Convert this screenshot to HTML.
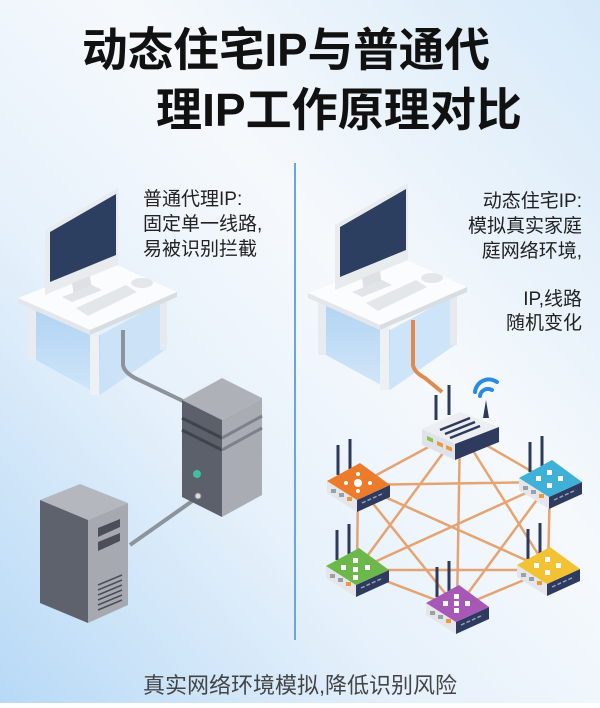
<!DOCTYPE html>
<html><head><meta charset="utf-8"><style>
html,body{margin:0;padding:0}
body{width:600px;height:703px;overflow:hidden;font-family:"Liberation Sans","Noto Sans CJK SC",sans-serif}
</style></head><body>
<svg width="600" height="703" viewBox="0 0 600 703" xmlns="http://www.w3.org/2000/svg" font-family="Liberation Sans, Noto Sans CJK SC, sans-serif">
<defs>
<linearGradient id="bg" x1="0" y1="1" x2="1" y2="0">
<stop offset="0" stop-color="#b7d9f6"/><stop offset="0.35" stop-color="#e6f1fb"/><stop offset="0.6" stop-color="#f6f9fc"/><stop offset="1" stop-color="#d6e9f9"/>
</linearGradient>
<linearGradient id="sh" x1="0" y1="0" x2="0" y2="1"><stop offset="0" stop-color="#a9cff2"/><stop offset="1" stop-color="#cfe5f8"/></linearGradient>
</defs>
<rect width="600" height="703" fill="url(#bg)"/>
<text x="82" y="66" font-size="46" font-weight="bold" fill="#111" textLength="408" lengthAdjust="spacingAndGlyphs">动态住宅IP与普通代</text>
<text x="156" y="126" font-size="46" font-weight="bold" fill="#111" textLength="366" lengthAdjust="spacingAndGlyphs">理IP工作原理对比</text>
<line x1="295" y1="163" x2="295" y2="640" stroke="#6aa4e3" stroke-width="2"/>
<g font-size="19" fill="#222">
<text x="143" y="205">普通代理IP:</text><text x="143" y="230">固定单一线路,</text><text x="143" y="255">易被识别拦截</text>
</g>
<g font-size="19" fill="#222" text-anchor="end">
<text x="582" y="207">动态住宅IP:</text><text x="582" y="232">模拟真实家庭</text><text x="582" y="257">庭网络环境,</text>
<text x="582" y="305">IP,线路</text><text x="582" y="329">随机变化</text>
</g>
<text x="300" y="693" font-size="22" fill="#444" text-anchor="middle">真实网络环境模拟,降低识别风险</text>

<!-- desks -->
<g id="desk">
<polygon points="36,305 100,335 100,395 36,360" fill="url(#sh)" opacity="0.9"/>
<polygon points="100,335 165,300 165,350 100,395" fill="#c4def6" opacity="0.8"/>
<rect x="28" y="305" width="8" height="55" fill="#e8ecf0"/>
<rect x="90" y="330" width="9" height="65" fill="#eef1f4"/>
<rect x="160" y="298" width="7" height="52" fill="#e6eaee"/>
<polygon points="18,298 110,262 177,292 90,330" fill="#fbfcfd"/>
<polygon points="18,298 90,330 90,335 18,303" fill="#e3e7eb"/>
<polygon points="90,330 177,292 177,297 90,335" fill="#d8dde2"/>
<polygon points="45,230 118,188 118,265 45,295" fill="#e9ecef"/>
<polygon points="50,232 116,194 116,255 50,282" fill="#2d3f60"/>
<polygon points="72,283 90,276 92,290 74,296" fill="#dde1e5"/>
<polygon points="62,297 92,285 102,290 72,302" fill="#e1e5e9"/>
<polygon points="76,308 126,285 137,292 88,316" fill="#e4e7ea"/>
<ellipse cx="142" cy="283" rx="11" ry="5" fill="#e4e7ea"/>
</g>
<use href="#desk" transform="translate(290,-5)"/>

<!-- left cables -->
<path d="M123 330 L123 365 Q124 372 135 378 L185 402" fill="none" stroke="#8c939b" stroke-width="4"/>
<path d="M130 545 L198 497" stroke="#8c939b" stroke-width="4"/>
<!-- server 1 -->
<polygon points="182,400 222,378 262,398 222,420" fill="#aeb2b8"/>
<polygon points="182,400 222,420 222,517 182,497" fill="#5b606b"/>
<polygon points="222,420 262,398 262,495 222,517" fill="#a9adb3"/>
<line x1="182" y1="418" x2="222" y2="438" stroke="#3f434b" stroke-width="3"/>
<line x1="222" y1="438" x2="262" y2="416" stroke="#7d8189" stroke-width="3"/>
<line x1="182" y1="430" x2="222" y2="450" stroke="#3f434b" stroke-width="3"/>
<line x1="222" y1="450" x2="262" y2="428" stroke="#7d8189" stroke-width="3"/>
<circle cx="197" cy="474" r="4" fill="#3fbf9f"/>
<circle cx="198" cy="496" r="3" fill="#ddd" stroke="#888"/>
<!-- server 2 -->
<polygon points="40,500 80,484 128,503 88,520" fill="#b4b8be"/>
<polygon points="40,500 88,520 88,623 40,603" fill="#5d626c"/>
<polygon points="88,520 128,503 128,605 88,623" fill="#a6aab0"/>
<polygon points="98,528 120,519 120,527 98,537" fill="#4a4f58"/>
<polygon points="98,542 120,533 120,541 98,551" fill="#4a4f58"/>
<g stroke="#4a4f58" stroke-width="1.5">
<line x1="98" y1="585" x2="122" y2="575"/><line x1="98" y1="590" x2="122" y2="580"/><line x1="98" y1="595" x2="122" y2="585"/><line x1="98" y1="600" x2="122" y2="590"/><line x1="98" y1="605" x2="122" y2="595"/><line x1="98" y1="610" x2="122" y2="600"/>
</g>

<!-- mesh -->
<g stroke="#e59b64" stroke-width="2.5" opacity="0.9">
<path d="M460 430 L358 485 M460 430 L550 482 M460 430 L357 570 M460 430 L548 570 M460 430 L457 608
M358 485 L550 482 M358 485 L357 570 M358 485 L548 570 M358 485 L457 608
M550 482 L357 570 M550 482 L548 570 M550 482 L457 608
M357 570 L548 570 M357 570 L457 608 M548 570 L457 608"/>
</g>
<path d="M413 320 L413 365 Q414 372 425 378 L442 392" fill="none" stroke="#e08a4f" stroke-width="4"/>

<!-- main router -->
<line x1="436" y1="420" x2="436" y2="395" stroke="#2d3a5c" stroke-width="3"/>
<line x1="449" y1="415" x2="449" y2="385" stroke="#2d3a5c" stroke-width="3"/>
<polygon points="483,418 486,400 489,418" fill="#2d3a5c"/>
<path d="M480 396 a8 8 0 0 1 12 -6 M475 392 a14 14 0 0 1 22 -10" fill="none" stroke="#2a8be0" stroke-width="4" stroke-linecap="round"/>
<polygon points="422,429 460,412 499,427 455,444" fill="#eceef2"/>
<polygon points="422,429 455,444 455,460 422,445" fill="#dfe2e7"/>
<polygon points="455,444 499,427 499,442 455,460" fill="#2e3b5e"/>
<g stroke="#2e3b5e" stroke-width="2.5">
<line x1="440" y1="430" x2="470" y2="418"/><line x1="445" y1="434" x2="475" y2="422"/><line x1="450" y1="438" x2="480" y2="426"/>
</g>
<rect x="427" y="436" width="6" height="4" fill="#8bc34a" transform="skewY(24)" transform-origin="427 436"/>
<rect x="437" y="441" width="6" height="4" fill="#f0963e" transform="skewY(24)" transform-origin="437 441"/>
<rect x="446" y="445" width="6" height="4" fill="#f0963e" transform="skewY(24)" transform-origin="446 445"/>

<!-- small routers -->
<defs>
<g id="r">
<line x1="-20" y1="-8" x2="-20" y2="-38" stroke="#2d3a5c" stroke-width="3"/>
<line x1="-8" y1="-14" x2="-8" y2="-44" stroke="#2d3a5c" stroke-width="3"/>
<polygon points="-31,10 -1,29 -1,17 -31,-2" fill="#e4e6ea"/>
<polygon points="-1,17 32,2 32,14 -1,29" fill="#2e3b5e"/>
<rect x="-27" y="6" width="5" height="4" fill="#9aa0a8"/><rect x="-19" y="10" width="5" height="4" fill="#9aa0a8"/><rect x="-11" y="14" width="5" height="4" fill="#f0963e"/>
<line x1="4" y1="20" x2="26" y2="10" stroke="#8fa0c0" stroke-width="1.5" stroke-dasharray="4 2"/>
</g>
</defs>
<g transform="translate(358,483)"><use href="#r"/><polygon points="-31,-2 2,-20 32,2 -1,17" fill="#ec7b2c"/><g fill="#fff"><circle cx="0" cy="0" r="4"/><circle cx="-12" cy="0" r="2"/><circle cx="12" cy="0" r="2"/><circle cx="0" cy="-9" r="2"/><circle cx="0" cy="8" r="2"/></g></g>
<g transform="translate(550,480)"><use href="#r"/><polygon points="-31,-2 2,-20 32,2 -1,17" fill="#3fb0d8"/><g fill="#fff"><rect x="-14" y="-4" width="5" height="5"/><rect x="-3" y="-10" width="5" height="5"/><rect x="8" y="-4" width="5" height="5"/><rect x="-3" y="3" width="5" height="5"/></g></g>
<g transform="translate(357,568)"><use href="#r"/><polygon points="-31,-2 2,-20 32,2 -1,17" fill="#6cb84a"/><g fill="#fff"><rect x="-16" y="-3" width="5" height="5"/><rect x="-4" y="-10" width="5" height="5"/><rect x="-4" y="-1" width="5" height="5"/><rect x="8" y="-3" width="5" height="5"/><rect x="-4" y="7" width="5" height="5"/></g></g>
<g transform="translate(548,567)"><use href="#r"/><polygon points="-31,-2 2,-20 32,2 -1,17" fill="#f2c233"/><g fill="#fff"><rect x="-14" y="-4" width="5" height="5"/><rect x="-3" y="-10" width="5" height="5"/><rect x="8" y="-4" width="5" height="5"/><rect x="-3" y="3" width="5" height="5"/></g></g>
<g transform="translate(457,605)"><use href="#r"/><polygon points="-31,-2 2,-20 32,2 -1,17" fill="#a757b5"/><g fill="#fff"><rect x="-14" y="-4" width="5" height="5"/><rect x="-3" y="-11" width="5" height="5"/><rect x="8" y="-4" width="5" height="5"/><rect x="-3" y="3" width="5" height="5"/><rect x="-3" y="-4" width="5" height="5"/></g></g>
</svg>
</body></html>
